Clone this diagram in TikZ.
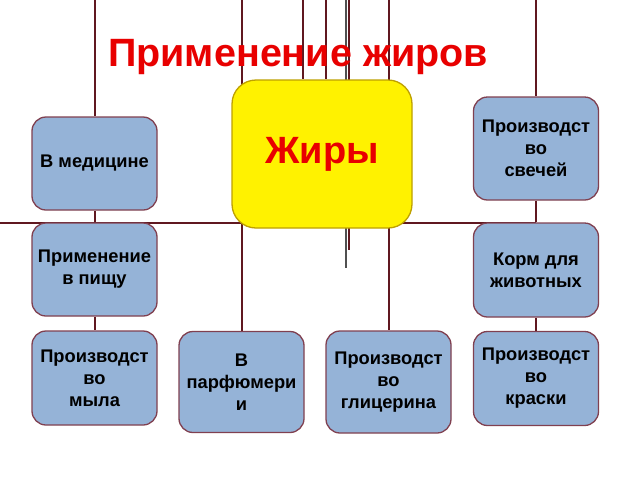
\documentclass[tikz,border=0pt]{standalone}
\usepackage{fontspec}
\setmainfont{Liberation Sans}
\usetikzlibrary{backgrounds}
\definecolor{boxfill}{RGB}{149,179,215}
\definecolor{boxline}{RGB}{128,64,80}
\definecolor{conn}{RGB}{96,24,32}
\definecolor{titlered}{RGB}{232,0,0}
\definecolor{fatline}{RGB}{190,160,0}
\definecolor{greyline}{RGB}{80,80,80}
\tikzset{
  bbox/.style={draw=boxline, line width=1.3pt, fill=boxfill, rounded corners=14pt,
    minimum width=125pt, align=center, inner sep=0pt,
    font=\fontsize{18.3}{22}\selectfont\bfseries},
  fatbox/.style={draw=fatline, line width=1.3pt, fill=yellow, rounded corners=24pt,
    minimum width=180pt, minimum height=148pt, inner sep=0pt,
    font=\fontsize{38}{44}\selectfont\bfseries, text=titlered},
  conline/.style={draw=conn, line width=2pt},
  greyconn/.style={draw=greyline, line width=2pt}
}
\begin{document}
\begin{tikzpicture}[x=1pt,y=-1pt]
\useasboundingbox (0,0) rectangle (640,480);
\node[font=\fontsize{39.5}{46}\selectfont\bfseries, text=titlered, anchor=base] (title) at (298,66) {Применение жиров};
\node[fatbox] (fat) at (322,154) {Жиры};
\node[bbox, minimum height=93pt] (med) at (94.5,163.5) {В медицине};
\node[bbox, minimum height=93pt] (food) at (94.5,269.5) {Применение\\в пищу};
\node[bbox, minimum height=94pt] (soap) at (94.5,378) {Производст\\во\\мыла};
\node[bbox, minimum height=101pt] (perf) at (241.5,382) {В\\парфюмери\\и};
\node[bbox, minimum height=102pt] (glyc) at (388.5,382) {Производст\\во\\глицерина};
\node[bbox, minimum height=94pt] (paint) at (536,378.5) {Производст\\во\\краски};
\node[bbox, minimum height=103pt] (cand) at (536,148.5) {Производст\\во\\свечей};
\node[bbox, minimum height=94pt] (feed) at (536,270) {Корм для\\животных};
\coordinate (tl) at (94.5,0);
\coordinate (tr) at (536,0);
\coordinate (t1) at (241.5,0);
\coordinate (t2) at (303,0);
\coordinate (t3) at (326,0);
\coordinate (t4) at (345.5,0);
\coordinate (t5) at (348.5,0);
\coordinate (t6) at (388.5,0);
\coordinate (e4) at (345.5,268);
\coordinate (e5) at (348.5,250);
\coordinate (h0) at (0,223);
\coordinate (hr) at (536,223);
\begin{scope}[on background layer]
\fill[white] (0,0) rectangle (640,480);
\draw[conline] (tl) -- (med.north);
\draw[conline] (med.south) -- (food.north);
\draw[conline] (food.south) -- (soap.north);
\draw[conline] (tr) -- (cand.north);
\draw[conline] (cand.south) -- (feed.north);
\draw[conline] (feed.south) -- (paint.north);
\draw[conline] (h0) -- (fat.center |- h0);
\draw[conline] (fat.center |- hr) -- (hr);
\draw[conline] (t1) -- (perf.north);
\draw[conline] (t6) -- (glyc.north);
\draw[conline] (t2) -- (fat.north -| t2);
\draw[conline] (t3) -- (fat.north -| t3);
\draw[greyconn] (t4) -- (e4);
\draw[conline] (t5) -- (e5);
\end{scope}
\end{tikzpicture}
\end{document}
